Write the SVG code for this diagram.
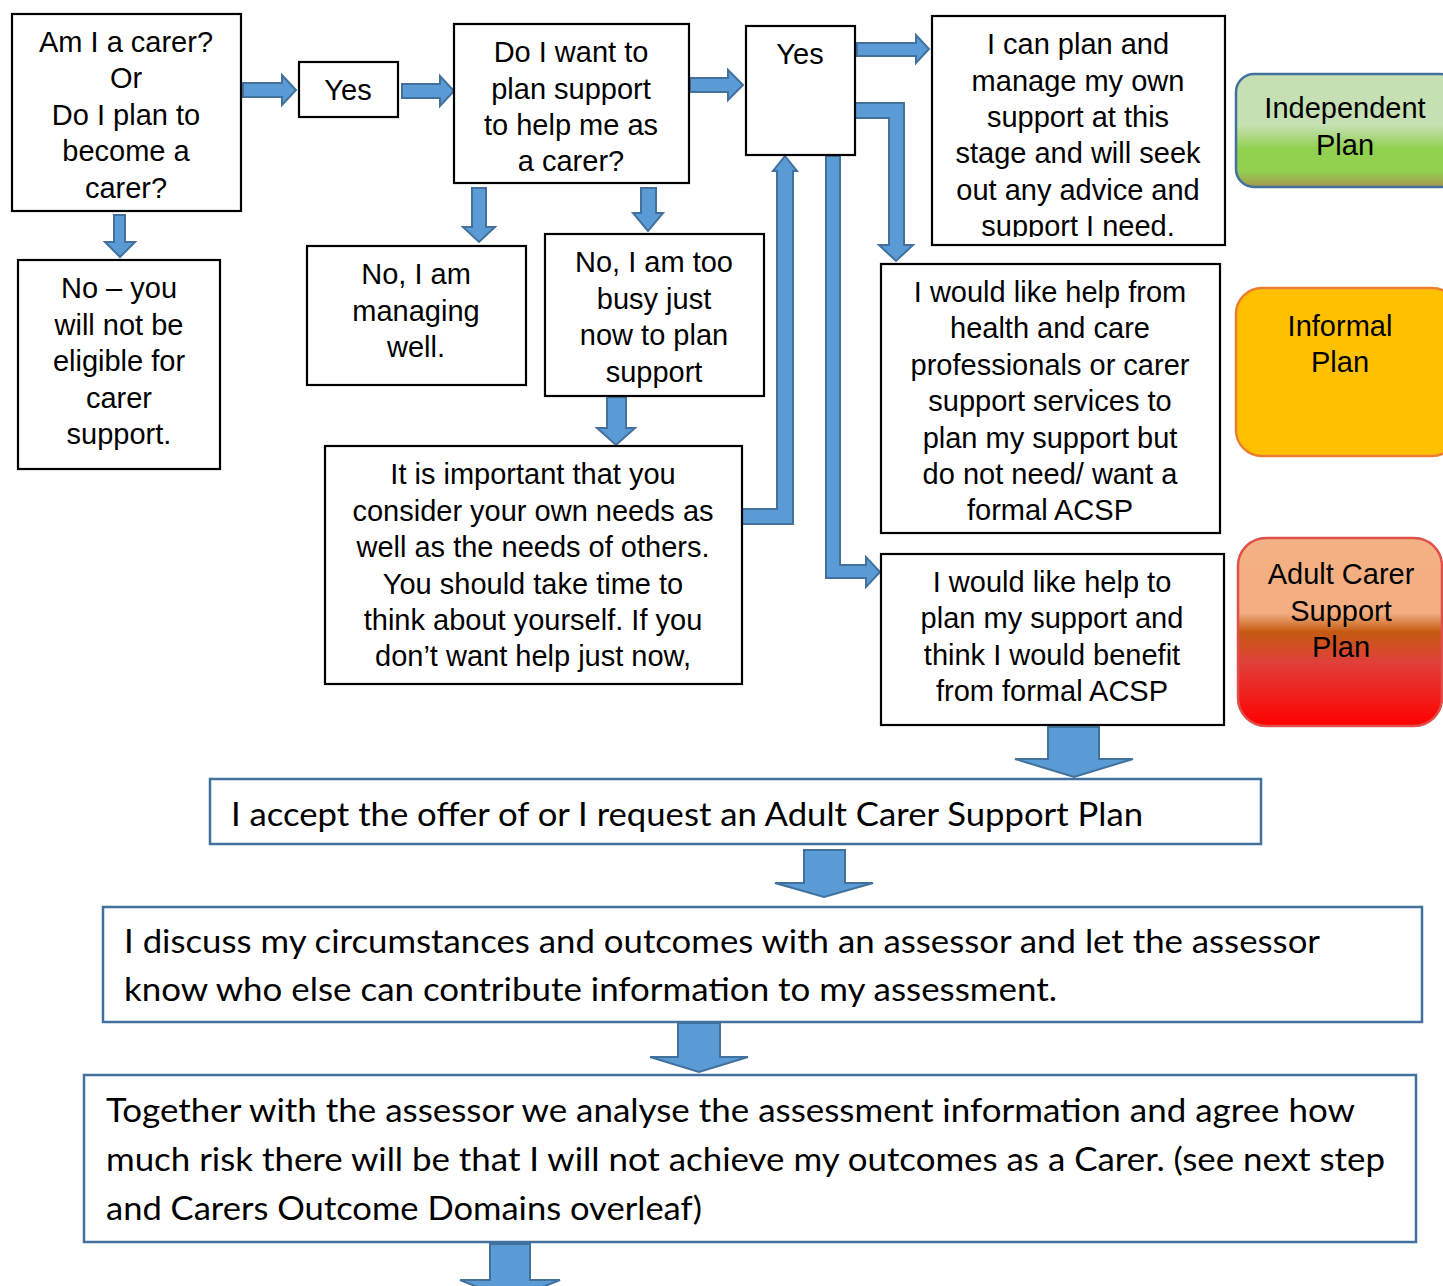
<svg xmlns="http://www.w3.org/2000/svg" width="1443" height="1286" viewBox="0 0 1443 1286">
<style>
.box{fill:#fff;stroke:#000;stroke-width:2.2}
.wbox{fill:#fff;stroke:#41719c;stroke-width:2.5}
.t{font-family:"Liberation Sans",Arial,sans-serif;font-size:29px;fill:#000;text-anchor:middle}
.c{font-family:Lato,"Open Sans",sans-serif;font-size:32px;fill:#000}
.arr{fill:#5b9bd5;stroke:#41719c;stroke-width:2;stroke-linejoin:miter}
</style>
<defs>
<linearGradient id="gInd" x1="0" y1="0" x2="0" y2="1">
<stop offset="0" stop-color="#c6e0b4"/><stop offset="0.45" stop-color="#c6e0b4"/>
<stop offset="0.66" stop-color="#92d050"/><stop offset="0.86" stop-color="#92d050"/>
<stop offset="1" stop-color="#a89650"/>
</linearGradient>
<linearGradient id="gAcsp" x1="0" y1="0" x2="0" y2="1">
<stop offset="0" stop-color="#f4b183"/><stop offset="0.4" stop-color="#f2ad80"/>
<stop offset="0.5" stop-color="#c55a11"/><stop offset="0.66" stop-color="#e0403a"/>
<stop offset="1" stop-color="#ff0000"/>
</linearGradient>
<clipPath id="clip9"><rect x="932" y="16" width="293" height="221"/></clipPath>
</defs>

<g id="connectors">
<path class="arr" d="M243,83 H282 V75 L296,90 L282,105 V97 H243 Z"/>
<path class="arr" d="M402,84 H440 V76 L454,91 L440,106 V98 H402 Z"/>
<path class="arr" d="M690,78 H728 V70 L743,85 L728,100 V92 H690 Z"/>
<path class="arr" d="M857,43 H916 V35 L929,49 L916,63 V56 H857 Z"/>
<path class="arr" d="M855,103 H904 V245 H913 L896,261 L879,245 H889 V118 H855 Z"/>
<path class="arr" d="M742,509 H777 V171 H773 L785,156 L797,171 H793 V524 H742 Z"/>
<path class="arr" d="M826,156 H840 V565 H866 V557 L880,572 L866,587 V578 H826 Z"/>
<path class="arr" d="M114,215 H125 V242 H135 L120,257 L105,242 H114 Z"/>
<path class="arr" d="M472,188 H486 V227 H495 L479,242 L463,227 H472 Z"/>
<path class="arr" d="M641,188 H656 V213 H663 L648,231 L633,213 H641 Z"/>
<path class="arr" d="M607,397 H626 V428 H635 L616,445 L597,428 H607 Z"/>
<path class="arr" d="M1048,727 H1099 V759 H1133 L1074,777 L1015,759 H1048 Z"/>
<path class="arr" d="M804,850 H845 V883 H873 L824,897 L775,883 H804 Z"/>
<path class="arr" d="M678,1023 H720 V1057 H748 L699,1072 L650,1057 H678 Z"/>
<path class="arr" d="M490,1244 H530 V1280 H560 L510,1300 L460,1280 H490 Z"/>
</g>

<g id="n1"><rect class="box" x="12" y="14" width="229" height="197"/>
<text class="t" x="126" y="52">Am I a carer?</text>
<text class="t" x="126" y="88">Or</text>
<text class="t" x="126" y="125">Do I plan to</text>
<text class="t" x="126" y="161">become a</text>
<text class="t" x="126" y="198">carer?</text></g>

<g id="n2"><rect class="box" x="18" y="260" width="202" height="209"/>
<text class="t" x="119" y="298">No – you</text>
<text class="t" x="119" y="335">will not be</text>
<text class="t" x="119" y="371">eligible for</text>
<text class="t" x="119" y="408">carer</text>
<text class="t" x="119" y="444">support.</text></g>

<g id="n3"><rect class="box" x="299" y="62" width="99" height="55"/>
<text class="t" x="348" y="100">Yes</text></g>

<g id="n4"><rect class="box" x="454" y="24" width="235" height="159"/>
<text class="t" x="571" y="62">Do I want to</text>
<text class="t" x="571" y="99">plan support</text>
<text class="t" x="571" y="135">to help me as</text>
<text class="t" x="571" y="171">a carer?</text></g>

<g id="n5"><rect class="box" x="307" y="246" width="219" height="139"/>
<text class="t" x="416" y="284">No, I am</text>
<text class="t" x="416" y="321">managing</text>
<text class="t" x="416" y="357">well.</text></g>

<g id="n6"><rect class="box" x="545" y="234" width="219" height="162"/>
<text class="t" x="654" y="272">No, I am too</text>
<text class="t" x="654" y="309">busy just</text>
<text class="t" x="654" y="345">now to plan</text>
<text class="t" x="654" y="382">support</text></g>

<g id="n7"><rect class="box" x="325" y="446" width="417" height="238"/>
<text class="t" x="533" y="484">It is important that you</text>
<text class="t" x="533" y="521">consider your own needs as</text>
<text class="t" x="533" y="557">well as the needs of others.</text>
<text class="t" x="533" y="594">You should take time to</text>
<text class="t" x="533" y="630">think about yourself. If you</text>
<text class="t" x="533" y="666">don’t want help just now,</text></g>

<g id="n8"><rect class="box" x="746" y="26" width="109" height="129"/>
<text class="t" x="800" y="64">Yes</text></g>

<g id="n9"><rect class="box" x="932" y="16" width="293" height="229"/>
<g clip-path="url(#clip9)">
<text class="t" x="1078" y="54">I can plan and</text>
<text class="t" x="1078" y="91">manage my own</text>
<text class="t" x="1078" y="127">support at this</text>
<text class="t" x="1078" y="163">stage and will seek</text>
<text class="t" x="1078" y="200">out any advice and</text>
<text class="t" x="1078" y="236">support I need.</text></g></g>

<g id="n10"><rect class="box" x="881" y="264" width="339" height="269"/>
<text class="t" x="1050" y="302">I would like help from</text>
<text class="t" x="1050" y="338">health and care</text>
<text class="t" x="1050" y="375">professionals or carer</text>
<text class="t" x="1050" y="411">support services to</text>
<text class="t" x="1050" y="448">plan my support but</text>
<text class="t" x="1050" y="484">do not need/ want a</text>
<text class="t" x="1050" y="520">formal ACSP</text></g>

<g id="n11"><rect class="box" x="881" y="554" width="343" height="171"/>
<text class="t" x="1052" y="592">I would like help to</text>
<text class="t" x="1052" y="628">plan my support and</text>
<text class="t" x="1052" y="665">think I would benefit</text>
<text class="t" x="1052" y="701">from formal ACSP</text></g>

<g id="indep"><rect x="1236" y="74" width="222" height="113" rx="18" fill="url(#gInd)" stroke="#41719c" stroke-width="2.5"/>
<text class="t" x="1345" y="118">Independent</text>
<text class="t" x="1345" y="155">Plan</text></g>

<g id="informal"><rect x="1236" y="288" width="222" height="168" rx="26" fill="#ffc000" stroke="#ed7d31" stroke-width="2.5"/>
<text class="t" x="1340" y="336">Informal</text>
<text class="t" x="1340" y="372">Plan</text></g>

<g id="acsp"><rect x="1238" y="538" width="204" height="188" rx="28" fill="url(#gAcsp)" stroke="#e0504a" stroke-width="2.5"/>
<text class="t" x="1341" y="584">Adult Carer</text>
<text class="t" x="1341" y="621">Support</text>
<text class="t" x="1341" y="657">Plan</text></g>

<g id="accept"><rect class="wbox" x="210" y="779" width="1051" height="65"/>
<text class="c" x="231" y="826" textLength="912" lengthAdjust="spacingAndGlyphs">I accept the offer of or I request an Adult Carer Support Plan</text></g>

<g id="discuss"><rect class="wbox" x="103" y="907" width="1319" height="115"/>
<text class="c" x="124" y="953" textLength="1196" lengthAdjust="spacingAndGlyphs">I discuss my circumstances and outcomes with an assessor and let the assessor</text>
<text class="c" x="124" y="1001" textLength="933" lengthAdjust="spacingAndGlyphs">know who else can contribute information to my assessment.</text></g>

<g id="together"><rect class="wbox" x="84" y="1075" width="1332" height="167"/>
<text class="c" x="106" y="1122" textLength="1249" lengthAdjust="spacingAndGlyphs">Together with the assessor we analyse the assessment information and agree how</text>
<text class="c" x="106" y="1171" textLength="1279" lengthAdjust="spacingAndGlyphs">much risk there will be that I will not achieve my outcomes as a Carer. (see next step</text>
<text class="c" x="106" y="1220" textLength="596" lengthAdjust="spacingAndGlyphs">and Carers Outcome Domains overleaf)</text></g>
</svg>
